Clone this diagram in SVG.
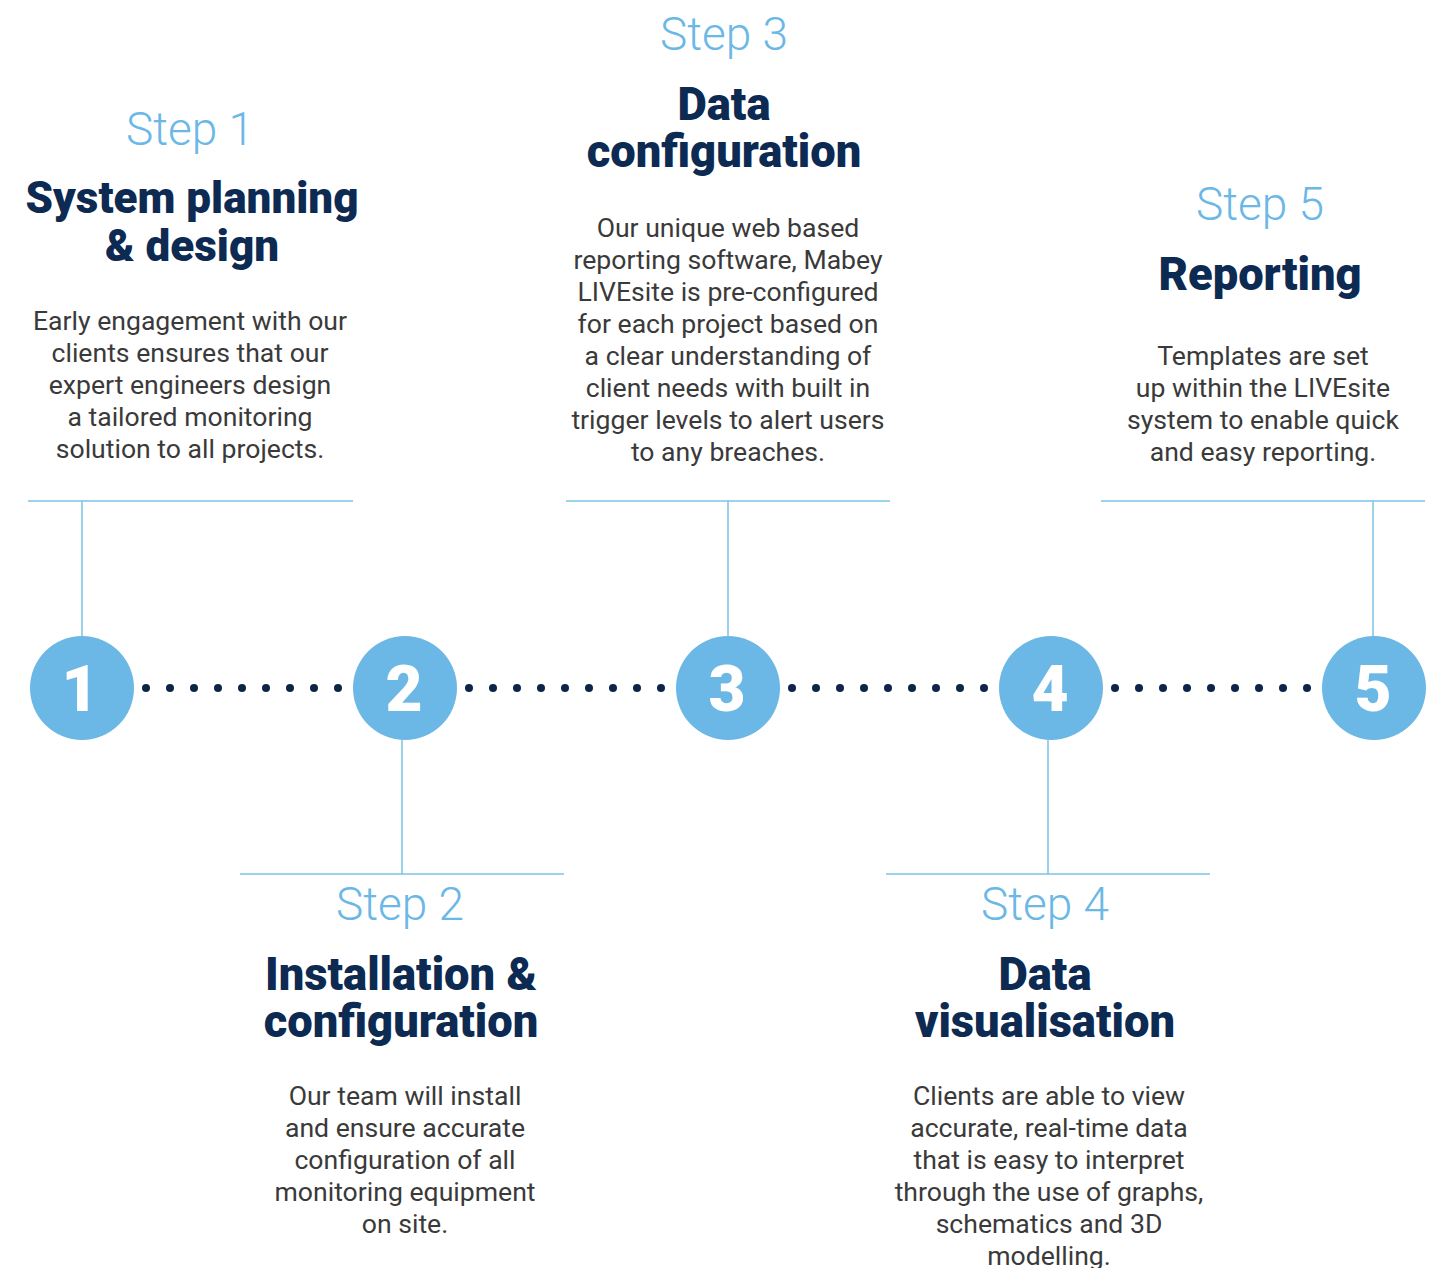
<svg xmlns="http://www.w3.org/2000/svg" width="1442" height="1268" viewBox="0 0 1442 1268">
<style>
.step{font-family:Roboto,"Liberation Sans",sans-serif;font-weight:300;font-size:46px;fill:#6BB8E6;text-anchor:middle}
.title{font-family:Roboto,"Liberation Sans",sans-serif;font-weight:900;font-size:45.3px;fill:#0D2A52;text-anchor:middle}
.body{font-family:Roboto,"Liberation Sans",sans-serif;font-weight:400;font-size:26.6px;fill:#3a3a3a;text-anchor:middle}
.num{font-family:Roboto,"Liberation Sans",sans-serif;font-weight:900;font-size:64px;fill:#fff;text-anchor:middle}
.circ{fill:#6BB8E6}
.ln{stroke:#7EC3EA;stroke-width:1.5;fill:none}
.dot{fill:#0D2549}
</style>
<defs>
<g id="dots">
<circle class="dot" cx="146" cy="688" r="4"/><circle class="dot" cx="170" cy="688" r="4"/><circle class="dot" cx="194" cy="688" r="4"/><circle class="dot" cx="218" cy="688" r="4"/><circle class="dot" cx="242" cy="688" r="4"/><circle class="dot" cx="266" cy="688" r="4"/><circle class="dot" cx="290" cy="688" r="4"/><circle class="dot" cx="314" cy="688" r="4"/><circle class="dot" cx="338" cy="688" r="4"/>
</g>
</defs>
<rect width="1442" height="1268" fill="#fff"/>
<g id="connectors">
<use href="#dots"/>
<use href="#dots" x="323"/>
<use href="#dots" x="646"/>
<use href="#dots" x="969"/>
<path class="ln" d="M28 501H353M82 501V636"/>
<path class="ln" d="M566 501H890M728 501V636"/>
<path class="ln" d="M1101 501H1425M1373 501V636"/>
<path class="ln" d="M240 874H564M402 740V874"/>
<path class="ln" d="M886 874H1210M1048 740V874"/>
</g>
<g id="node1">
<circle class="circ" cx="82" cy="688" r="52"/><text class="num" x="80" y="711">1</text>
<text class="step" x="190" y="145">Step 1</text>
<text class="title" x="192" y="213" style="font-size:44px">System planning</text>
<text class="title" x="192" y="261" style="font-size:44px">&amp; design</text>
<text class="body" x="190" y="330">Early engagement with our</text>
<text class="body" x="190" y="362">clients ensures that our</text>
<text class="body" x="190" y="394">expert engineers design</text>
<text class="body" x="190" y="426">a tailored monitoring</text>
<text class="body" x="190" y="458">solution to all projects.</text>
</g>
<g id="node2">
<circle class="circ" cx="405" cy="688" r="52"/><text class="num" x="404" y="711">2</text>
<text class="step" x="400" y="920">Step 2</text>
<text class="title" x="401" y="990">Installation &amp;</text>
<text class="title" x="401" y="1037">configuration</text>
<text class="body" x="405" y="1105">Our team will install</text>
<text class="body" x="405" y="1137">and ensure accurate</text>
<text class="body" x="405" y="1169">configuration of all</text>
<text class="body" x="405" y="1201">monitoring equipment</text>
<text class="body" x="405" y="1233">on site.</text>
</g>
<g id="node3">
<circle class="circ" cx="728" cy="688" r="52"/><text class="num" x="727" y="711">3</text>
<text class="step" x="724" y="50">Step 3</text>
<text class="title" x="724" y="120">Data</text>
<text class="title" x="724" y="167">configuration</text>
<text class="body" x="728" y="237">Our unique web based</text>
<text class="body" x="728" y="269">reporting software, Mabey</text>
<text class="body" x="728" y="301">LIVEsite is pre-configured</text>
<text class="body" x="728" y="333">for each project based on</text>
<text class="body" x="728" y="365">a clear understanding of</text>
<text class="body" x="728" y="397">client needs with built in</text>
<text class="body" x="728" y="429">trigger levels to alert users</text>
<text class="body" x="728" y="461">to any breaches.</text>
</g>
<g id="node4">
<circle class="circ" cx="1051" cy="688" r="52"/><text class="num" x="1050" y="711">4</text>
<text class="step" x="1045" y="920">Step 4</text>
<text class="title" x="1045" y="990">Data</text>
<text class="title" x="1045" y="1037">visualisation</text>
<text class="body" x="1049" y="1105">Clients are able to view</text>
<text class="body" x="1049" y="1137">accurate, real-time data</text>
<text class="body" x="1049" y="1169">that is easy to interpret</text>
<text class="body" x="1049" y="1201">through the use of graphs,</text>
<text class="body" x="1049" y="1233">schematics and 3D</text>
<text class="body" x="1049" y="1265">modelling.</text>
</g>
<g id="node5">
<circle class="circ" cx="1374" cy="688" r="52"/><text class="num" x="1373" y="711">5</text>
<text class="step" x="1260" y="220">Step 5</text>
<text class="title" x="1260" y="290">Reporting</text>
<text class="body" x="1263" y="365">Templates are set</text>
<text class="body" x="1263" y="397">up within the LIVEsite</text>
<text class="body" x="1263" y="429">system to enable quick</text>
<text class="body" x="1263" y="461">and easy reporting.</text>
</g>
</svg>
